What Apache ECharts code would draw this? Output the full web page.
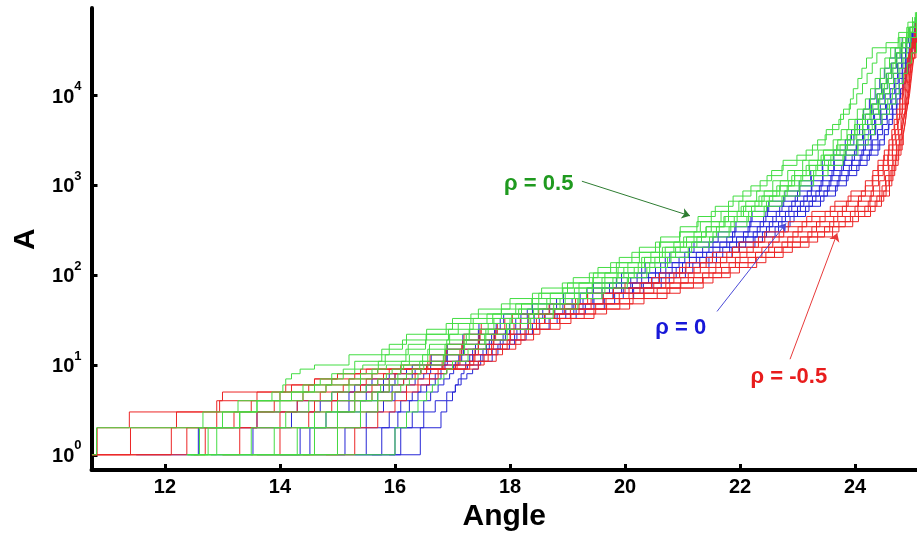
<!DOCTYPE html>
<html><head><meta charset="utf-8">
<script src="https://cdn.jsdelivr.net/npm/echarts@6/dist/echarts.min.js"></script>
<style>html,body{margin:0;padding:0;background:#fff}#c{width:917px;height:537px}</style>
</head><body><div id="c"></div>
<script>
// ---- axis ticks ----
const xTicks = [12, 14, 16, 18, 20, 22, 24];
const yTicks = [1, 10, 100, 1000, 10000];

// ---- A levels reached by each staircase (odd curves use levelsA, even curves levelsB) ----
const levelsA = [1,2,3,4,5,6,7,8,9,10,13,17,22,29,37,48,63,82,106,138,180,234,304,395,514,668,868,1128,1467,1907,2479,3223,4190,5447,7080,9205,11966,15556,20223,26290,34177,44430,57759,75000];
const levelsB = [1,2,3,4,5,6,7,8,9,11,15,19,25,33,42,55,72,94,122,158,205,267,347,451,586,762,990,1287,1673,2175,2828,3676,4779,6213,8077,10500,13650,17745,23069,29990,38987,50683,65888,85000];

// ---- Angle at which each level is reached: rho = 0.5 (green) ----
const rho05 = [
 [10.73,10.81,12.66,13.27,13.86,14.05,14.1,14.2,14.35,14.6,15.2,15.9,16.2,17.1,17.6,18.1,18.5,19.0,19.45,19.85,20.25,20.6,20.95,21.25,21.5,21.8,22.05,22.35,22.55,22.75,23.15,23.35,23.5,23.72,23.8,23.92,23.97,24.05,24.12,24.2,24.3,24.78,24.93,25.0],
 [12.4,12.9,13.3,13.6,14.0,14.4,14.7,14.9,15.1,15.3,15.77,16.13,16.55,17.0,17.45,18.0,18.55,19.1,19.53,19.9,20.25,20.62,20.96,21.27,21.57,21.88,22.19,22.47,22.73,22.99,23.26,23.48,23.61,23.75,23.9,24.03,24.13,24.21,24.3,24.38,24.54,24.76,24.92,25.05],
 [12.45,12.6,13.0,13.6,14.2,14.6,14.9,15.1,15.3,15.44,15.83,16.23,16.54,16.89,17.32,17.85,18.39,18.91,19.38,19.75,20.12,20.53,20.95,21.31,21.67,21.98,22.29,22.57,22.83,23.09,23.36,23.62,23.76,23.89,24.04,24.18,24.27,24.35,24.44,24.52,24.62,24.75,24.9,25.04],
 [12.38,12.75,13.3,14.0,14.4,14.8,15.2,15.4,15.6,15.71,16.19,16.53,16.93,17.36,17.85,18.38,18.92,19.44,19.88,20.29,20.65,21.02,21.41,21.72,22.02,22.33,22.64,22.9,23.15,23.41,23.68,23.87,23.99,24.13,24.27,24.39,24.47,24.54,24.62,24.7,24.8,24.9,25.0,25.07],
 [12.6,13.5,14.1,14.5,14.9,15.2,15.4,15.6,15.7,15.85,16.25,16.6,16.95,17.3,17.7,18.2,18.7,19.2,19.65,20.05,20.45,20.85,21.2,21.5,21.8,22.1,22.42,22.7,22.95,23.2,23.45,23.7,23.86,24.0,24.14,24.27,24.36,24.44,24.52,24.6,24.7,24.83,24.95,25.07],
 [13.0,13.9,14.6,15.0,15.3,15.5,15.7,15.85,15.95,16.11,16.57,16.9,17.29,17.72,18.15,18.64,19.12,19.6,19.98,20.34,20.7,21.07,21.41,21.74,22.06,22.38,22.69,22.95,23.21,23.47,23.74,23.92,24.04,24.18,24.31,24.43,24.51,24.58,24.66,24.73,24.82,24.92,25.01,25.07],
 [13.5,14.3,14.8,15.3,15.6,15.75,15.9,16.05,16.1,16.15,16.48,16.87,17.24,17.62,18.03,18.49,18.96,19.43,19.86,20.23,20.6,20.96,21.33,21.64,21.95,22.26,22.57,22.84,23.09,23.35,23.62,23.87,24.0,24.13,24.26,24.4,24.48,24.56,24.64,24.71,24.78,24.88,24.97,25.07],
 [13.9,14.6,15.0,15.4,15.7,15.9,16.05,16.2,16.3,16.43,16.87,17.2,17.58,18.0,18.41,18.87,19.33,19.79,20.16,20.52,20.88,21.25,21.59,21.9,22.2,22.51,22.82,23.06,23.32,23.58,23.84,24.03,24.14,24.28,24.41,24.53,24.6,24.67,24.75,24.82,24.9,24.96,25.07],
 [14.2,15.0,15.4,15.7,15.95,16.1,16.25,16.4,16.45,16.5,16.84,17.21,17.56,17.94,18.33,18.76,19.2,19.65,20.06,20.43,20.8,21.16,21.53,21.84,22.15,22.46,22.77,23.03,23.28,23.54,23.81,24.05,24.17,24.3,24.43,24.57,24.65,24.71,24.78,24.85,24.9,24.97,25.07],
 [12.38,16.0,16.2,16.4,16.55,16.65,16.75,16.85,16.9,17.0,17.27,17.58,17.95,18.36,18.75,19.18,19.6,20.04,20.38,20.74,21.1,21.47,21.81,22.12,22.42,22.73,23.04,23.28,23.53,23.79,24.05,24.23,24.34,24.47,24.6,24.71,24.77,24.84,24.91,24.98,25.07]
];

// ---- rho = 0 (blue) ----
const rho0 = [
 [11.5,12.58,13.6,14.3,14.9,15.3,15.6,15.9,16.1,16.3,16.63,16.91,17.18,17.46,17.89,18.39,18.93,19.45,19.94,20.35,20.78,21.2,21.62,21.93,22.21,22.5,22.78,23.03,23.23,23.43,23.63,23.83,23.94,24.04,24.15,24.25,24.35,24.43,24.51,24.6,24.7,24.82,24.95,25.05],
 [12.8,13.53,14.2,14.7,15.2,15.5,15.8,16.0,16.2,16.62,16.9,17.18,17.45,17.83,18.3,18.81,19.34,19.85,20.29,20.7,21.12,21.53,21.91,22.19,22.48,22.76,23.04,23.24,23.44,23.63,23.84,23.98,24.08,24.18,24.29,24.38,24.46,24.55,24.63,24.72,24.81,24.93,25.04],
 [13.6,14.35,14.8,15.2,15.5,15.8,16.0,16.2,16.35,16.55,16.91,17.19,17.47,17.76,18.19,18.69,19.22,19.73,20.21,20.62,21.04,21.46,21.87,22.17,22.45,22.73,23.0,23.25,23.44,23.64,23.84,24.03,24.13,24.22,24.32,24.41,24.5,24.57,24.64,24.72,24.8,24.9,25.0,25.07],
 [14.0,14.52,15.0,15.4,15.7,15.95,16.15,16.3,16.45,16.87,17.16,17.45,17.73,18.1,18.57,19.08,19.6,20.1,20.53,20.94,21.35,21.77,22.14,22.41,22.69,22.96,23.24,23.44,23.63,23.82,24.02,24.15,24.24,24.34,24.44,24.52,24.6,24.67,24.74,24.81,24.89,24.98,25.06],
 [14.6,15.13,15.5,15.8,16.0,16.2,16.35,16.5,16.62,16.82,17.11,17.4,17.68,17.99,18.42,18.92,19.44,19.94,20.41,20.82,21.24,21.65,22.06,22.35,22.63,22.9,23.17,23.41,23.6,23.8,23.99,24.18,24.27,24.36,24.45,24.53,24.61,24.68,24.74,24.81,24.88,24.96,25.04,25.07],
 [15.0,15.5,15.9,16.1,16.3,16.45,16.6,16.7,16.8,17.05,17.35,17.64,17.92,18.31,18.78,19.27,19.79,20.29,20.71,21.12,21.53,21.94,22.3,22.57,22.85,23.11,23.38,23.58,23.77,23.95,24.15,24.28,24.36,24.45,24.55,24.62,24.69,24.75,24.82,24.88,24.95,25.02,25.07],
 [15.3,15.77,16.05,16.25,16.4,16.55,16.7,16.8,16.9,17.02,17.3,17.59,17.88,18.18,18.61,19.11,19.62,20.13,20.59,21.0,21.42,21.82,22.23,22.51,22.79,23.05,23.32,23.55,23.74,23.94,24.12,24.3,24.39,24.47,24.55,24.64,24.71,24.77,24.83,24.89,24.94,25.01,25.07],
 [15.5,16.0,16.3,16.5,16.62,16.75,16.85,16.95,17.02,17.23,17.53,17.83,18.12,18.51,18.97,19.46,19.97,20.47,20.89,21.3,21.7,22.1,22.46,22.73,23.0,23.26,23.52,23.72,23.9,24.09,24.28,24.4,24.48,24.56,24.65,24.71,24.77,24.82,24.88,24.94,24.99,25.07],
 [15.9,16.44,16.8,16.9,17.0,17.05,17.1,17.15,17.2,17.26,17.49,17.79,18.08,18.39,18.82,19.31,19.82,20.32,20.77,21.18,21.59,21.99,22.39,22.67,22.94,23.2,23.46,23.69,23.88,24.07,24.25,24.43,24.51,24.59,24.66,24.73,24.79,24.84,24.89,24.94,24.99,25.07],
 [15.6,16.1,16.5,16.7,16.9,17.05,17.15,17.25,17.35,17.45,17.69,17.99,18.28,18.68,19.15,19.64,20.15,20.63,21.05,21.46,21.86,22.26,22.61,22.87,23.14,23.4,23.66,23.85,24.03,24.21,24.4,24.51,24.58,24.65,24.72,24.78,24.83,24.88,24.93,24.98,25.04,25.07]
];

// ---- rho = -0.5 (red) ----
const rhoNeg05 = [
 [10.73,10.82,11.38,12.95,13.0,14.2,14.6,15.0,15.5,16.1,16.61,16.9,17.2,17.5,18.04,18.68,19.35,20.0,20.6,21.06,21.52,21.98,22.43,22.84,23.25,23.65,23.93,24.18,24.31,24.4,24.51,24.59,24.64,24.68,24.73,24.78,24.82,24.85,24.87,24.91,24.95,25.0,25.05,25.07],
 [10.73,11.4,12.2,12.9,13.6,14.1,14.6,15.0,15.4,16.57,16.88,17.18,17.48,17.91,18.5,19.14,19.8,20.46,20.95,21.41,21.87,22.32,22.76,23.16,23.57,23.88,24.18,24.3,24.4,24.5,24.59,24.65,24.69,24.73,24.78,24.83,24.86,24.88,24.91,24.94,24.98,25.03,25.07],
 [10.73,12.11,12.9,13.5,14.0,14.5,14.9,15.3,15.7,16.55,16.85,17.16,17.46,17.78,18.32,18.95,19.62,20.26,20.85,21.31,21.77,22.23,22.68,23.08,23.48,23.85,24.11,24.31,24.41,24.49,24.58,24.66,24.7,24.74,24.78,24.83,24.86,24.89,24.91,24.94,24.97,25.02,25.06],
 [10.73,12.38,13.2,13.9,14.4,14.8,15.2,15.6,15.9,16.82,17.13,17.45,17.75,18.18,18.77,19.41,20.07,20.71,21.2,21.66,22.12,22.57,23.01,23.39,23.78,24.06,24.32,24.41,24.49,24.57,24.65,24.71,24.75,24.78,24.82,24.87,24.89,24.91,24.93,24.97,25.0,25.04,25.07],
 [12.5,12.7,13.6,14.3,14.7,15.1,15.5,15.8,16.1,16.85,17.13,17.45,17.72,18.07,18.6,19.2,19.9,20.5,21.1,21.58,22.0,22.5,22.92,23.33,23.7,24.05,24.28,24.43,24.51,24.58,24.65,24.72,24.76,24.8,24.83,24.87,24.9,24.92,24.94,24.96,24.99,25.03,25.07],
 [13.0,13.3,14.0,14.6,15.0,15.4,15.7,16.0,16.3,17.08,17.39,17.71,18.01,18.46,19.05,19.67,20.33,20.97,21.46,21.92,22.38,22.83,23.25,23.63,24.0,24.26,24.47,24.53,24.59,24.66,24.73,24.77,24.81,24.84,24.88,24.91,24.93,24.95,24.97,25.0,25.03,25.07],
 [13.5,14.0,14.5,14.9,15.3,15.6,15.9,16.2,16.45,17.05,17.37,17.68,18.0,18.32,18.86,19.49,20.14,20.78,21.35,21.81,22.27,22.73,23.18,23.56,23.92,24.23,24.43,24.54,24.61,24.66,24.72,24.78,24.82,24.85,24.88,24.91,24.94,24.95,24.97,25.0,25.04,25.07],
 [14.0,14.6,15.0,15.3,15.6,15.9,16.15,16.35,16.55,17.3,17.62,17.95,18.26,18.7,19.29,19.91,20.56,21.19,21.68,22.14,22.6,23.05,23.47,23.83,24.17,24.38,24.54,24.59,24.64,24.7,24.76,24.8,24.83,24.86,24.89,24.93,24.95,24.96,24.98,25.01,25.05,25.07],
 [14.4,15.0,15.4,15.7,15.95,16.2,16.4,16.6,16.75,17.23,17.55,17.87,18.19,18.52,19.06,19.68,20.33,20.96,21.53,21.99,22.45,22.91,23.35,23.72,24.06,24.35,24.5,24.6,24.66,24.71,24.76,24.82,24.85,24.88,24.9,24.93,24.95,24.97,24.99,25.02,25.06],
 [14.8,15.3,15.7,16.0,16.2,16.4,16.6,16.75,16.9,17.45,17.76,18.1,18.41,18.87,19.46,20.08,20.73,21.36,21.83,22.29,22.75,23.2,23.61,23.96,24.27,24.46,24.6,24.64,24.69,24.75,24.8,24.84,24.87,24.89,24.92,24.95,24.97,24.99,25.01,25.04,25.07]
];

// ---- annotations: [Angle, A] ----
const noteLabels = ['\u03c1 = 0.5', '\u03c1 = 0', '\u03c1 = -0.5'];
const notePos = [[18.5, 1028], [20.97, 26], [22.85, 7.3]];
const arrowFrom = [[19.25, 1115], [21.6, 39.5], [22.87, 11.6]];
const arrowTo = [[21.13, 459], [22.8, 378], [23.69, 293]];

const FONT = '"Liberation Sans", Arial, sans-serif';
const lineColors = {green: '#44dd44', blue: '#2626d6', red: '#ec2626'};
const textColors = ['#1f9a1f', '#1818d8', '#e81c1c'];
const arrowColors = ['#2e7d32', '#4b4bd8', '#e83a3a'];

function staircase(runs, color) {
  return runs.map((xs, i) => {
    const lv = i % 2 === 0 ? levelsA : levelsB;
    return {
      type: 'line', step: 'end', silent: true, animation: false,
      showSymbol: false, symbol: 'none',
      lineStyle: {width: 1, color: color},
      data: xs.map((x, j) => [x, lv[j]])
    };
  });
}

const series = [].concat(
  staircase(rho0, lineColors.blue),
  staircase(rhoNeg05, lineColors.red),
  staircase(rho05, lineColors.green)
);

noteLabels.forEach((txt, k) => {
  series.push({
    type: 'line', data: [], silent: true, animation: false,
    markLine: {
      silent: true, animation: false, symbol: ['none', 'arrow'], symbolSize: 8,
      lineStyle: {type: 'solid', width: 1, color: arrowColors[k]},
      label: {show: false},
      data: [[{coord: arrowFrom[k]}, {coord: arrowTo[k]}]]
    },
    markPoint: {
      silent: true, animation: false, symbol: 'circle', symbolSize: 1,
      itemStyle: {color: 'rgba(0,0,0,0)'},
      label: {show: true, position: 'inside', formatter: txt, color: textColors[k],
              fontSize: 22, fontWeight: 'bold', fontFamily: FONT},
      data: [{coord: notePos[k]}]
    }
  });
});

const chart = echarts.init(document.getElementById('c'), null, {renderer: 'canvas'});
chart.setOption({
  animation: false,
  backgroundColor: '#ffffff',
  grid: {left: 91.5, right: 0, top: 8, bottom: 61.5, containLabel: false},
  xAxis: {
    type: 'value', min: 10.722, max: 25.078,
    axisLine: {show: true, onZero: false, lineStyle: {color: '#000', width: 4}},
    axisTick: {show: true, inside: true, length: 6, customValues: xTicks, lineStyle: {color: '#000', width: 3}},
    axisLabel: {customValues: xTicks, margin: 7, color: '#000', fontSize: 20, fontWeight: 'bold', fontFamily: FONT},
    splitLine: {show: false},
    name: 'Angle', nameLocation: 'middle', nameGap: 28,
    nameTextStyle: {color: '#000', fontSize: 30, fontWeight: 'bold', fontFamily: FONT}
  },
  yAxis: {
    type: 'log', logBase: 10, min: 0.675, max: 94800,
    axisLine: {show: true, onZero: false, lineStyle: {color: '#000', width: 4}},
    axisTick: {show: true, inside: true, length: 6, customValues: yTicks, lineStyle: {color: '#000', width: 3}},
    axisLabel: {
      customValues: yTicks, margin: 10, padding: [0, 0, 4, 0],
      formatter: v => '{b|10}{s|' + Math.round(Math.log10(v)) + '}',
      rich: {
        b: {fontSize: 20, fontWeight: 'bold', fontFamily: FONT, color: '#000', lineHeight: 27, verticalAlign: 'bottom'},
        s: {fontSize: 13, fontWeight: 'bold', fontFamily: FONT, color: '#000', lineHeight: 14, verticalAlign: 'top'}
      }
    },
    splitLine: {show: false},
    name: 'A', nameLocation: 'middle', nameGap: 50, nameRotate: 90,
    nameTextStyle: {color: '#000', fontSize: 30, fontWeight: 'bold', fontFamily: FONT}
  },
  series: series
});
</script>
</body></html>
